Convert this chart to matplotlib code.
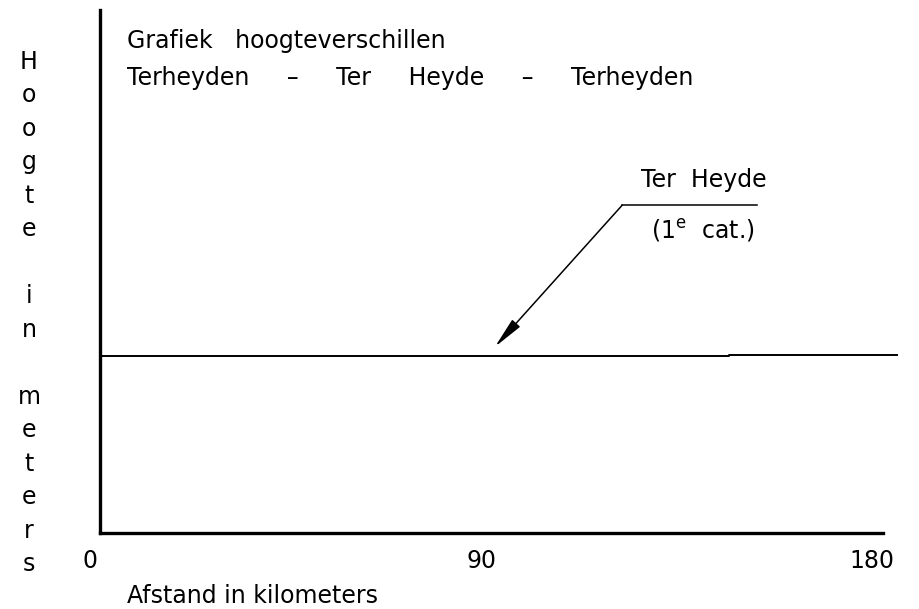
"""
Grafiek hoogteverschillen Terheyden - Ter Heyde - Terheyden
Run: python3 plot.py
"""

import matplotlib
matplotlib.use("Agg")
import matplotlib.pyplot as plt

# ── Data ──────────────────────────────────────
afstand = [2.3, 147.0, 147.0, 185.8]   # km
hoogte = [33.8, 33.8, 34.1, 34.1]      # relative height (no scale shown)

xtick_values = [0, 90, 180]
xtick_labels = ["0", "90", "180"]

title_lines = ["Grafiek   hoogteverschillen",
               "Terheyden     –     Ter     Heyde     –     Terheyden"]
ylabel_text = "Hoogte in meters"
xlabel_text = "Afstand in kilometers"

col_name = "Ter  Heyde"
col_cat = r"(1$^{\mathrm{e}}$  cat.)"
col_point = (93.2, 35.6)   # arrow tip
col_elbow = (122.5, 62.7)  # start of arrow / shelf
col_shelf_end = 153.5

# ── Figure ────────────────────────────────────
W, H = 919, 609
plt.rcParams["font.family"] = ["DejaVu Sans"]
plt.rcParams["mathtext.fontset"] = "dejavusans"
fs = 17

fig = plt.figure(figsize=(W / 100, H / 100), dpi=100)
ax = fig.add_axes([100 / W, 76 / H, 783 / W, 523 / H])
ax.set_xlim(2.3, 182.5)
ax.set_ylim(0, 100)
ax.set_xticks([]); ax.set_yticks([])
for s in ("top", "right"):
    ax.spines[s].set_visible(False)
for s in ("left", "bottom"):
    ax.spines[s].set_linewidth(2.4)

# profile line
ax.plot(afstand, hoogte, color="black", linewidth=1.4, clip_on=False)

# col annotation: arrow + shelf line
ax.annotate("", xy=col_point, xytext=col_elbow,
            arrowprops=dict(arrowstyle="-|>,head_length=1.9,head_width=0.32",
                            color="black", lw=1.1, shrinkA=0, shrinkB=0))
ax.plot([col_elbow[0], col_shelf_end], [col_elbow[1], col_elbow[1]],
        color="black", linewidth=1.1)
ax.text(126.8, 66.2, col_name, fontsize=fs, ha="left", va="baseline")
ax.text(129.0, 56.4, col_cat, fontsize=fs, ha="left", va="baseline")

# x tick labels
for v, lab in zip(xtick_values, xtick_labels):
    ax.text(v, -6.7, lab, fontsize=fs, ha="center", va="baseline", clip_on=False)

# titles and axis labels
fig.text(127 / W, 1 - 48 / H, title_lines[0], fontsize=fs, ha="left", va="baseline")
fig.text(127 / W, 1 - 85 / H, title_lines[1], fontsize=fs, ha="left", va="baseline")
fig.text(127 / W, 1 - 603 / H, xlabel_text, fontsize=fs, ha="left", va="baseline")

# vertical, letter-by-letter y label
step = (571 - 69) / (len(ylabel_text) - 1)
for i, ch in enumerate(ylabel_text):
    if ch == " ":
        continue
    fig.text(29 / W, 1 - (69 + i * step) / H, ch, fontsize=fs,
             ha="center", va="baseline")

plt.savefig("out.png", dpi=100)
print("[OK] Saved out.png")
